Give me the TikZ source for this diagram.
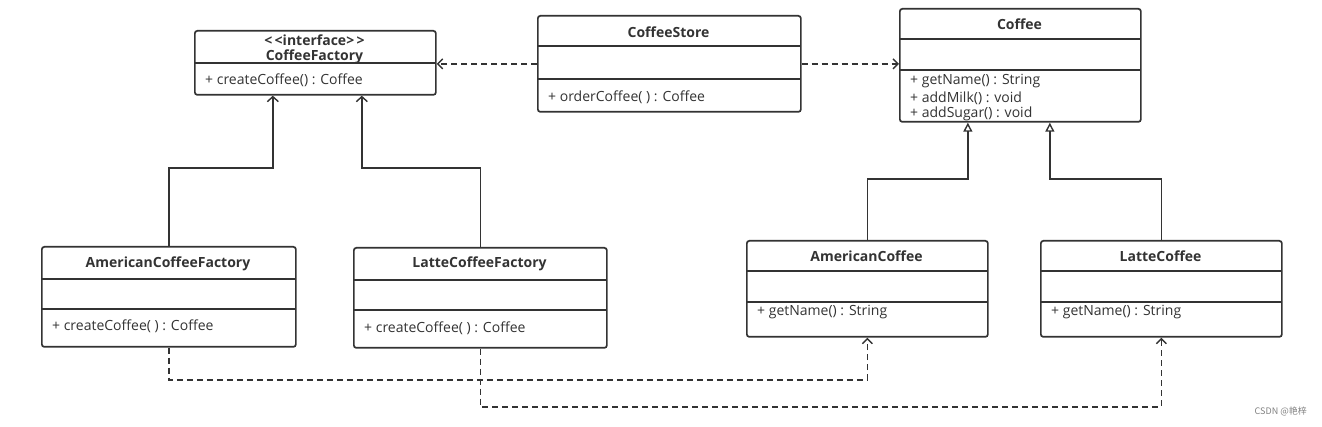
\documentclass[tikz,border=0pt]{standalone}
\usepackage{fontspec}
\setmainfont{Open Sans}
\newfontfamily\cjk{Noto Sans CJK SC}
\usetikzlibrary{arrows.meta,calc}
\definecolor{ink}{HTML}{333333}
\tikzset{
  cls/.style={draw=ink, line width=1.7pt, rounded corners=2.5pt, anchor=north west, inner sep=0pt, fill=white},
  sep/.style={draw=ink, line width=1.5pt},
  ttl/.style={font=\fontsize{14}{16}\selectfont\bfseries, text=ink, inner sep=0pt},
  mth/.style={font=\fontsize{14}{16}\selectfont, text=ink, anchor=west, inner sep=0pt},
  dep/.style={draw=ink, line width=1.7pt, dash pattern=on 6pt off 4pt, -{Straight Barb[length=5pt,width=10pt,line width=1.4pt]}},
  real/.style={draw=ink, line width=1.7pt, -{Straight Barb[length=5pt,width=11pt,line width=1.4pt]}},
  gen/.style={draw=ink, line width=1.7pt, -{Triangle[open,length=9pt,width=9pt,line width=1.4pt,fill=white]}},
}
\begin{document}
\begin{tikzpicture}[x=1pt,y=-1pt]
\useasboundingbox (0,0) rectangle (1322,427);
% CoffeeFactory (interface)
\node[cls, minimum width=241pt, minimum height=64pt] (cf) at (194,30) {};
\draw[sep] (194,63) -- (435,63);
\node[ttl] (cft1) at (314.5,40) {{<}\,{<}interface{>}\,{>}};
\node[ttl] (cft2) at (314.5,57) {CoffeeFactory};
\node[mth] (cfm) at (205,80) {+ createCoffee() : Coffee};
% CoffeeStore
\node[cls, minimum width=263pt, minimum height=96pt] (store) at (537,15) {};
\draw[sep] (537,46) -- (800,46);
\draw[sep] (537,79) -- (800,79);
\node[ttl] (storet) at (668.5,32) {CoffeeStore};
\node[mth] (storem) at (548,97) {+ orderCoffee( ) : Coffee};
% Coffee
\node[cls, minimum width=241pt, minimum height=113pt] (coffee) at (899,8) {};
\draw[sep] (899,39) -- (1140,39);
\draw[sep] (899,70) -- (1140,70);
\node[ttl] (coffeet) at (1019.5,24) {Coffee};
\node[mth] (coffeem1) at (910,81) {+ getName() : String};
\node[mth] (coffeem2) at (910,98) {+ addMilk() : void};
\node[mth] (coffeem3) at (910,114) {+ addSugar() : void};
% AmericanCoffeeFactory
\node[cls, minimum width=254pt, minimum height=100pt] (acf) at (41,246) {};
\draw[sep] (41,279) -- (295,279);
\draw[sep] (41,309) -- (295,309);
\node[ttl] (acft) at (168,264) {AmericanCoffeeFactory};
\node[mth] (acfm) at (52,326) {+ createCoffee( ) : Coffee};
% LatteCoffeeFactory
\node[cls, minimum width=253pt, minimum height=100pt] (lcf) at (353,247) {};
\draw[sep] (353,280) -- (606,280);
\draw[sep] (353,310) -- (606,310);
\node[ttl] (lcft) at (479.5,264) {LatteCoffeeFactory};
\node[mth] (lcfm) at (364,328) {+ createCoffee( ) : Coffee};
% AmericanCoffee
\node[cls, minimum width=241pt, minimum height=96pt] (ac) at (746,240) {};
\draw[sep] (746,271) -- (987,271);
\draw[sep] (746,302) -- (987,302);
\node[ttl] (act) at (866.5,256) {AmericanCoffee};
\node[mth] (acm) at (757,312) {+ getName() : String};
% LatteCoffee
\node[cls, minimum width=241pt, minimum height=96pt] (lc) at (1040,240) {};
\draw[sep] (1040,271) -- (1281,271);
\draw[sep] (1040,302) -- (1281,302);
\node[ttl] (lct) at (1160.5,256) {LatteCoffee};
\node[mth] (lcm) at (1051,312) {+ getName() : String};
% connectors
\draw[dep] (store.west) -- (cf.east |- store.west);
\draw[dep] (store.east) -- (coffee.west |- store.east);
\draw[real] (acf.north) -- ++(0,-78) -| ([xshift=-42.5pt]cf.south);
\draw[real] (lcf.north) -- ++(0,-79) -| ([xshift=46.5pt]cf.south);
\draw[gen] (ac.north) -- ++(0,-61) -| ([xshift=-52.5pt]coffee.south);
\draw[gen] (lc.north) -- ++(0,-61) -| ([xshift=29.5pt]coffee.south);
\draw[dep] (acf.south) -- ++(0,32) -| (ac.south);
\draw[dep] (lcf.south) -- ++(0,58) -| (lc.south);
% watermark
\node[font=\cjk\fontsize{9}{11}\selectfont, text=gray, anchor=east, inner sep=0pt] (wm) at (1307,411) {CSDN @艳梓};
\end{tikzpicture}
\end{document}
